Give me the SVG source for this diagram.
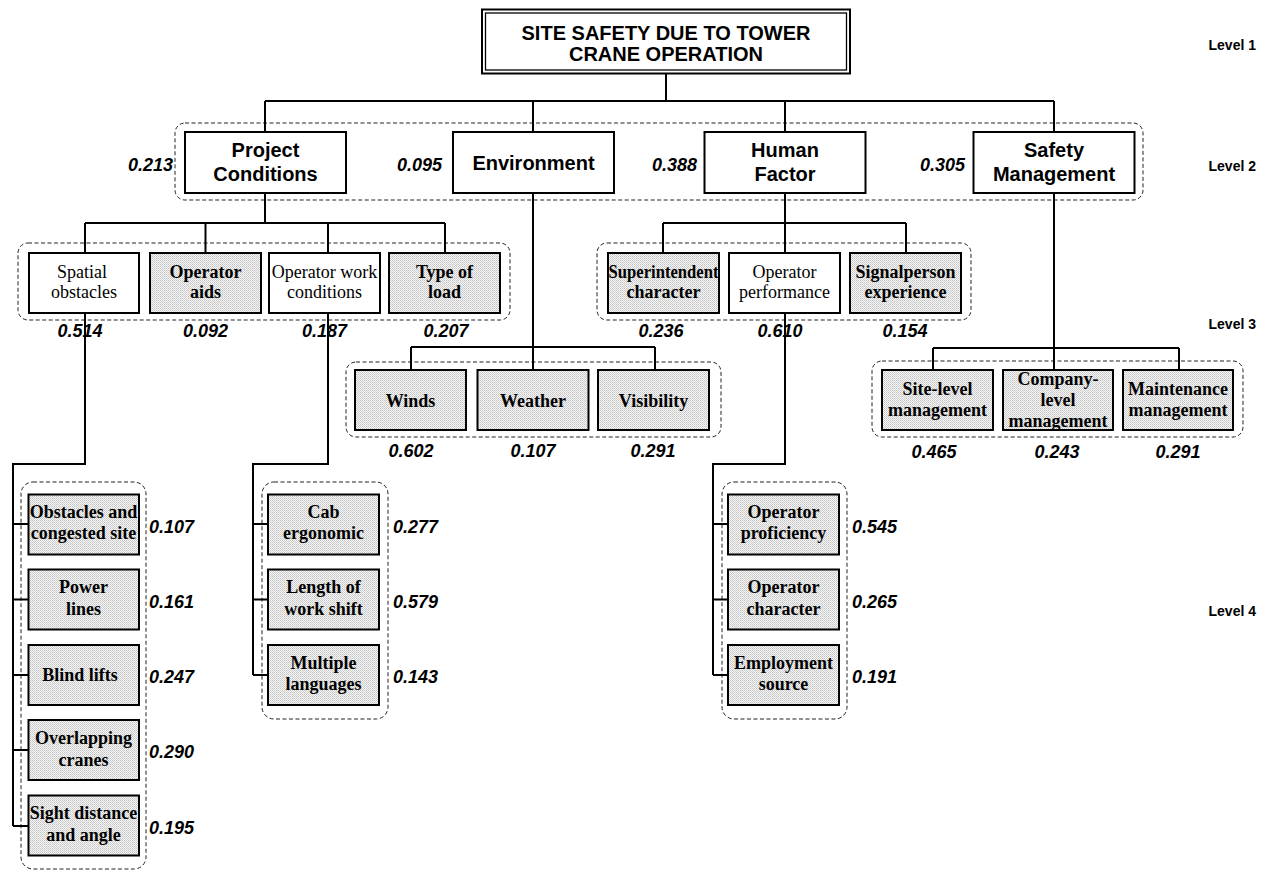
<svg xmlns="http://www.w3.org/2000/svg" width="1265" height="871" viewBox="0 0 1265 871">
<style>
.box{fill:#fff;stroke:#000;stroke-width:2}
.sh{fill:url(#dots);stroke:#000;stroke-width:2}
.grp{fill:none;stroke:#222;stroke-width:1;stroke-dasharray:4 2.5}
.ln{stroke:#000;stroke-width:2;fill:none}
.t2{font-family:"Liberation Sans",Arial,sans-serif;font-weight:bold;font-size:20px;text-anchor:middle;fill:#000}
.w{font-family:"Liberation Sans",Arial,sans-serif;font-weight:bold;font-style:italic;font-size:18px;fill:#000}
.wm{text-anchor:middle}
.we{text-anchor:end}
.tb{font-family:"Liberation Serif","Times New Roman",serif;font-weight:bold;font-size:18px;text-anchor:middle;fill:#000}
.tr{font-family:"Liberation Serif","Times New Roman",serif;font-size:18px;text-anchor:middle;fill:#000}
.lv{font-family:"Liberation Sans",Arial,sans-serif;font-weight:bold;font-size:14px;text-anchor:end;fill:#000}
</style>
<defs>
<pattern id="dots" width="2" height="2" patternUnits="userSpaceOnUse">
<rect width="2" height="2" fill="#f6f6f6"/>
<rect width="1" height="1" fill="#c4c4c4"/>
<rect x="1" y="1" width="1" height="1" fill="#d2d2d2"/>
</pattern>
</defs>

<g id="groups">
<rect class="grp" x="175" y="123" width="968" height="77" rx="10"/>
<rect class="grp" x="18" y="243" width="492" height="77" rx="10"/>
<rect class="grp" x="597" y="243" width="374" height="77" rx="10"/>
<rect class="grp" x="346" y="362" width="375" height="75" rx="10"/>
<rect class="grp" x="872" y="361" width="371" height="76" rx="10"/>
<rect class="grp" x="21" y="482" width="125" height="387" rx="12"/>
<rect class="grp" x="262" y="482" width="126" height="237" rx="12"/>
<rect class="grp" x="722" y="482" width="125" height="237" rx="12"/>
</g>

<g id="connectors">
<path class="ln" d="M666,73 V101 M265,101 H1054 M265,101 V132 M533,101 V132 M785,101 V132 M1054,101 V132"/>
<path class="ln" d="M265,193 V223 M85,223 H445 M85,223 V253 M205.5,223 V253 M328,223 V253 M445,223 V253"/>
<path class="ln" d="M533,193 V370 M411,347 H655 M411,347 V370 M655,347 V370"/>
<path class="ln" d="M785,193 V253 M663,223 H906 M663,223 V253 M906,223 V253"/>
<path class="ln" d="M1054,193 V370 M933,348 H1179 M933,348 V370 M1179,348 V370"/>
<path class="ln" d="M85,313 V464 H13 V826 M13,524 H29 M13,599.5 H29 M13,675 H29 M13,750 H29 M13,826 H29"/>
<path class="ln" d="M328,313 V464 H253 V675 M253,524 H268 M253,599.5 H268 M253,675 H268"/>
<path class="ln" d="M785,313 V464 H713 V675 M713,524 H728 M713,599.5 H728 M713,675 H728"/>
</g>

<g id="root">
<rect x="482" y="9.5" width="368" height="64" fill="#fff" stroke="#000" stroke-width="2"/>
<rect x="485.5" y="13" width="361" height="57" fill="none" stroke="#000" stroke-width="1.3"/>
<text class="t2" x="666" y="40">SITE SAFETY DUE TO TOWER</text>
<text class="t2" x="666" y="61">CRANE OPERATION</text>
</g>

<g id="project-conditions">
<rect class="box" x="185" y="132" width="161" height="61"/>
<text class="t2" x="265.5" y="157">Project</text>
<text class="t2" x="265.5" y="181">Conditions</text>
<text class="w we" x="173" y="171">0.213</text>
</g>
<g id="environment">
<rect class="box" x="453" y="132" width="161" height="61"/>
<text class="t2" x="533.5" y="170">Environment</text>
<text class="w we" x="442" y="171">0.095</text>
</g>
<g id="human-factor">
<rect class="box" x="704.5" y="132" width="161" height="61"/>
<text class="t2" x="785" y="157">Human</text>
<text class="t2" x="785" y="181">Factor</text>
<text class="w we" x="697" y="171">0.388</text>
</g>
<g id="safety-management">
<rect class="box" x="973.5" y="132" width="161" height="61"/>
<text class="t2" x="1054" y="157">Safety</text>
<text class="t2" x="1054" y="181">Management</text>
<text class="w we" x="965" y="171">0.305</text>
</g>

<g id="spatial-obstacles">
<rect class="box" x="29" y="253" width="110" height="60"/>
<text class="tr" x="82" y="278">Spatial</text>
<text class="tr" x="84" y="298">obstacles</text>
<text class="w wm" x="80" y="337">0.514</text>
</g>
<g id="operator-aids">
<rect class="sh" x="150" y="253" width="111" height="60"/>
<text class="tb" x="205.5" y="278">Operator</text>
<text class="tb" x="205.5" y="298">aids</text>
<text class="w wm" x="205.5" y="337">0.092</text>
</g>
<g id="operator-work-conditions">
<rect class="box" x="269" y="253" width="111" height="60"/>
<text class="tr" x="324.5" y="278">Operator work</text>
<text class="tr" x="324.5" y="298">conditions</text>
<text class="w wm" x="324.5" y="337">0.187</text>
</g>
<g id="type-of-load">
<rect class="sh" x="389" y="253" width="111" height="60"/>
<text class="tb" x="444.5" y="278">Type of</text>
<text class="tb" x="444.5" y="298">load</text>
<text class="w wm" x="446" y="337">0.207</text>
</g>

<g id="superintendent-character">
<rect class="sh" x="608" y="253" width="111" height="60"/>
<text class="tb" x="663.5" y="278" textLength="110" lengthAdjust="spacingAndGlyphs">Superintendent</text>
<text class="tb" x="663.5" y="298">character</text>
<text class="w wm" x="661" y="337">0.236</text>
</g>
<g id="operator-performance">
<rect class="box" x="729" y="253" width="111" height="60"/>
<text class="tr" x="784.5" y="278">Operator</text>
<text class="tr" x="784.5" y="298">performance</text>
<text class="w wm" x="780" y="337">0.610</text>
</g>
<g id="signalperson-experience">
<rect class="sh" x="850" y="253" width="111" height="60"/>
<text class="tb" x="905.5" y="278">Signalperson</text>
<text class="tb" x="905.5" y="298">experience</text>
<text class="w wm" x="905" y="337">0.154</text>
</g>

<g id="winds">
<rect class="sh" x="355" y="370" width="111" height="60"/>
<text class="tb" x="410.5" y="407">Winds</text>
<text class="w wm" x="411" y="457">0.602</text>
</g>
<g id="weather">
<rect class="sh" x="477.5" y="370" width="111" height="60"/>
<text class="tb" x="533" y="407">Weather</text>
<text class="w wm" x="533" y="457">0.107</text>
</g>
<g id="visibility">
<rect class="sh" x="598" y="370" width="111" height="60"/>
<text class="tb" x="653.5" y="407">Visibility</text>
<text class="w wm" x="653" y="457">0.291</text>
</g>

<g id="site-level-management">
<rect class="sh" x="882" y="370" width="111" height="60"/>
<text class="tb" x="937.5" y="395">Site-level</text>
<text class="tb" x="937.5" y="416">management</text>
<text class="w wm" x="934" y="458">0.465</text>
</g>
<g id="company-level-management">
<rect class="sh" x="1003" y="370" width="110" height="60"/>
<text class="tb" x="1058" y="385">Company-</text>
<text class="tb" x="1058" y="406">level</text>
<text class="tb" x="1058" y="427">management</text>
<text class="w wm" x="1057" y="458">0.243</text>
</g>
<g id="maintenance-management">
<rect class="sh" x="1123" y="370" width="110" height="60"/>
<text class="tb" x="1178" y="395">Maintenance</text>
<text class="tb" x="1178" y="416">management</text>
<text class="w wm" x="1178" y="458">0.291</text>
</g>

<g id="obstacles-congested-site">
<rect class="sh" x="28.5" y="494.5" width="110.5" height="60"/>
<text class="tb" x="83.5" y="518">Obstacles and</text>
<text class="tb" x="83.5" y="539">congested site</text>
<text class="w" x="149" y="533">0.107</text>
</g>
<g id="power-lines">
<rect class="sh" x="28.5" y="569.5" width="110.5" height="60"/>
<text class="tb" x="83.5" y="593">Power</text>
<text class="tb" x="83.5" y="615">lines</text>
<text class="w" x="149" y="608">0.161</text>
</g>
<g id="blind-lifts">
<rect class="sh" x="28.5" y="645" width="110.5" height="60"/>
<text class="tb" x="80" y="681">Blind lifts</text>
<text class="w" x="149" y="683">0.247</text>
</g>
<g id="overlapping-cranes">
<rect class="sh" x="28.5" y="720" width="110.5" height="60"/>
<text class="tb" x="83.5" y="744">Overlapping</text>
<text class="tb" x="83.5" y="766">cranes</text>
<text class="w" x="149" y="758">0.290</text>
</g>
<g id="sight-distance-angle">
<rect class="sh" x="28.5" y="795.5" width="110.5" height="60"/>
<text class="tb" x="83.5" y="819">Sight distance</text>
<text class="tb" x="83.5" y="841">and angle</text>
<text class="w" x="149" y="834">0.195</text>
</g>

<g id="cab-ergonomic">
<rect class="sh" x="268" y="494.5" width="111" height="60"/>
<text class="tb" x="323.5" y="518">Cab</text>
<text class="tb" x="323.5" y="539">ergonomic</text>
<text class="w" x="393" y="533">0.277</text>
</g>
<g id="length-of-work-shift">
<rect class="sh" x="268" y="569.5" width="111" height="60"/>
<text class="tb" x="323.5" y="593">Length of</text>
<text class="tb" x="323.5" y="615">work shift</text>
<text class="w" x="393" y="608">0.579</text>
</g>
<g id="multiple-languages">
<rect class="sh" x="268" y="645" width="111" height="60"/>
<text class="tb" x="323.5" y="669">Multiple</text>
<text class="tb" x="323.5" y="690">languages</text>
<text class="w" x="393" y="683">0.143</text>
</g>

<g id="operator-proficiency">
<rect class="sh" x="728" y="494.5" width="111" height="60"/>
<text class="tb" x="783.5" y="518">Operator</text>
<text class="tb" x="783.5" y="539">proficiency</text>
<text class="w" x="852" y="533">0.545</text>
</g>
<g id="operator-character">
<rect class="sh" x="728" y="569.5" width="111" height="60"/>
<text class="tb" x="783.5" y="593">Operator</text>
<text class="tb" x="783.5" y="615">character</text>
<text class="w" x="852" y="608">0.265</text>
</g>
<g id="employment-source">
<rect class="sh" x="728" y="645" width="111" height="60"/>
<text class="tb" x="783.5" y="669">Employment</text>
<text class="tb" x="783.5" y="690">source</text>
<text class="w" x="852" y="683">0.191</text>
</g>

<g id="levels">
<text class="lv" x="1256" y="50">Level 1</text>
<text class="lv" x="1256" y="171">Level 2</text>
<text class="lv" x="1256" y="329">Level 3</text>
<text class="lv" x="1256" y="616">Level 4</text>
</g>
</svg>
